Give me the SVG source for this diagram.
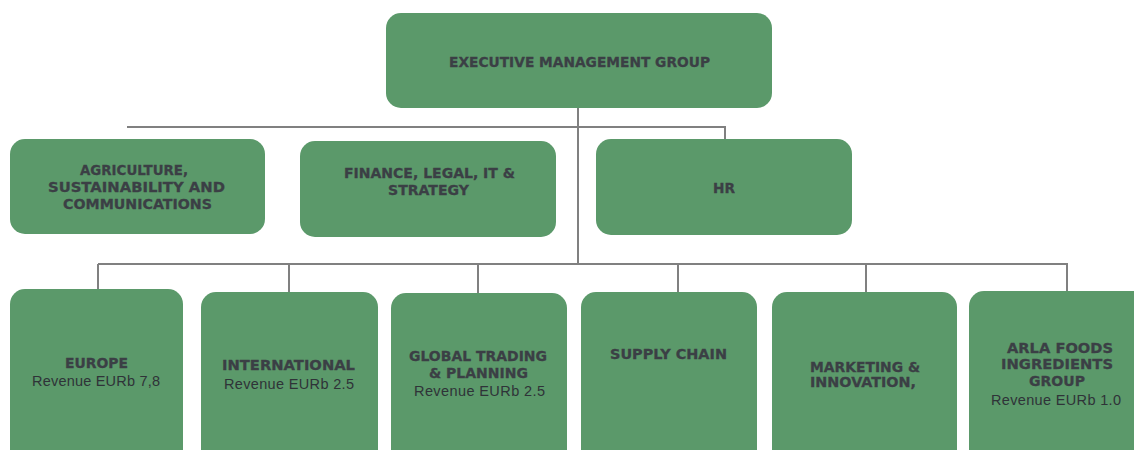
<svg xmlns="http://www.w3.org/2000/svg" width="1134" height="450" viewBox="0 0 1134 450">
<style>
.box{fill:#5b996a;}
.h{font-family:"DejaVu Sans",sans-serif;font-weight:bold;font-size:14px;fill:#3b3f45;stroke:#3b3f45;stroke-width:0.3;text-anchor:middle;}
.r{font-family:"Liberation Sans",Arial,sans-serif;font-size:14.5px;fill:#2f3338;text-anchor:middle;}
.ln{stroke:#808080;stroke-width:2;fill:none;}
</style>
<rect width="1134" height="450" fill="#ffffff"/>
<g id="connectors">
<path class="ln" d="M578 108 V265"/>
<path class="ln" d="M127 127 H725 V139"/>
<path class="ln" d="M98 264 H1068"/>
<path class="ln" d="M98 264 V289 M289 264 V292 M478 264 V293 M678 264 V292 M866 264 V292 M1067 264 V291"/>
</g>
<g id="exec">
<rect class="box" x="386" y="13" width="386" height="95" rx="15"/>
<text class="h" x="579.5" y="67" textLength="261" lengthAdjust="spacingAndGlyphs">EXECUTIVE MANAGEMENT GROUP</text>
</g>
<g id="agri">
<rect class="box" x="10" y="139" width="255" height="95" rx="15"/>
<text class="h" x="134" y="175" textLength="108" lengthAdjust="spacingAndGlyphs">AGRICULTURE,</text>
<text class="h" x="136.5" y="192" textLength="177" lengthAdjust="spacingAndGlyphs">SUSTAINABILITY AND</text>
<text class="h" x="137.5" y="209" textLength="149" lengthAdjust="spacingAndGlyphs">COMMUNICATIONS</text>
</g>
<g id="finance">
<rect class="box" x="300" y="141" width="256" height="96" rx="15"/>
<text class="h" x="429.5" y="178" textLength="171" lengthAdjust="spacingAndGlyphs">FINANCE, LEGAL, IT &amp;</text>
<text class="h" x="428.5" y="195" textLength="81" lengthAdjust="spacingAndGlyphs">STRATEGY</text>
</g>
<g id="hr">
<rect class="box" x="596" y="139" width="256" height="96" rx="15"/>
<text class="h" x="724" y="193" textLength="22" lengthAdjust="spacingAndGlyphs">HR</text>
</g>
<g id="europe">
<rect class="box" x="10" y="289" width="173" height="180" rx="15"/>
<text class="h" x="96.5" y="368" textLength="63" lengthAdjust="spacingAndGlyphs">EUROPE</text>
<text class="r" x="96" y="386" textLength="128" lengthAdjust="spacing">Revenue EURb 7,8</text>
</g>
<g id="international">
<rect class="box" x="201" y="292" width="177" height="180" rx="15"/>
<text class="h" x="288.5" y="370" textLength="133" lengthAdjust="spacingAndGlyphs">INTERNATIONAL</text>
<text class="r" x="289" y="389" textLength="130" lengthAdjust="spacing">Revenue EURb 2.5</text>
</g>
<g id="global">
<rect class="box" x="391" y="293" width="176" height="180" rx="15"/>
<text class="h" x="478" y="361" textLength="138" lengthAdjust="spacingAndGlyphs">GLOBAL TRADING</text>
<text class="h" x="478.5" y="378" textLength="99" lengthAdjust="spacingAndGlyphs">&amp; PLANNING</text>
<text class="r" x="479.5" y="396" textLength="131" lengthAdjust="spacing">Revenue EURb 2.5</text>
</g>
<g id="supply">
<rect class="box" x="581" y="292" width="176" height="180" rx="15"/>
<text class="h" x="668.5" y="359" textLength="117" lengthAdjust="spacingAndGlyphs">SUPPLY CHAIN</text>
</g>
<g id="marketing">
<rect class="box" x="772" y="292" width="185" height="180" rx="15"/>
<text class="h" x="865" y="372" textLength="110" lengthAdjust="spacingAndGlyphs">MARKETING &amp;</text>
<text class="h" x="863" y="387" textLength="106" lengthAdjust="spacingAndGlyphs">INNOVATION,</text>
</g>
<g id="arla">
<rect class="box" x="969" y="291" width="180" height="180" rx="15"/>
<text class="h" x="1060" y="353" textLength="106" lengthAdjust="spacingAndGlyphs">ARLA FOODS</text>
<text class="h" x="1057" y="369" textLength="112" lengthAdjust="spacingAndGlyphs">INGREDIENTS</text>
<text class="h" x="1057" y="386" textLength="56" lengthAdjust="spacingAndGlyphs">GROUP</text>
<text class="r" x="1056" y="405" textLength="130" lengthAdjust="spacing">Revenue EURb 1.0</text>
</g>
</svg>
